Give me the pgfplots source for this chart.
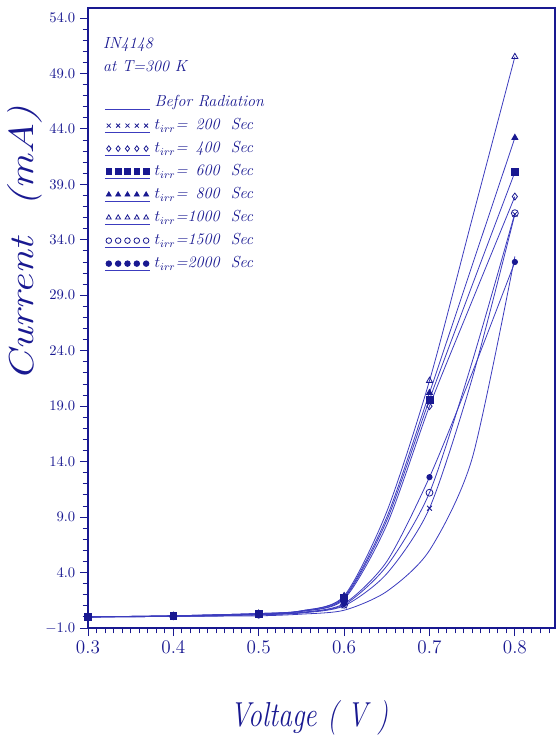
\documentclass[border=0pt]{standalone}
\usepackage{pgfplots}
\pgfplotsset{compat=1.18}
\usepackage{pgfplotstable}
\usepackage{graphicx}
\definecolor{ink}{RGB}{25,25,145}
\definecolor{wire}{RGB}{60,60,190}

% I-V of 1N4148 diode, current in mA
\pgfplotstableread{
x     before s200 s400 s600 s800 s1000 s1500 s2000
0.30  0.0    0.0  0.0  0.0  0.0  0.0   0.0   0.0
0.40  0.05   0.05 0.1  0.1  0.1  0.1   0.05  0.05
0.50  0.1    0.2  0.25 0.3  0.3  0.3   0.2   0.2
0.55  0.25   0.35 0.5  0.5  0.55 0.55  0.4   0.4
0.60  0.6    1.0  1.6  1.7  1.8  1.9   1.1   1.2
0.65  2.3    3.9  8.3  8.7  9.0  9.5   4.6   5.0
0.70  6.0    9.8  19.0 19.6 20.2 21.3  11.2  12.6
0.75  14.3   21.5 28.5 29.9 31.7 35.9  23.0  22.0
0.80  32.5   36.3 37.9 40.1 43.2 50.5  36.4  32.0
}\ivdata

\begin{document}
\begin{tikzpicture}
\begin{axis}[
    name=ax,
    scale only axis, width=350.25pt, height=465pt,
    xmin=0.3, xmax=0.847, ymin=-1, ymax=54.9,
    xtick={0.3,0.4,0.5,0.6,0.7,0.8,0.9},
    ytick={-1,4,9,14,19,24,29,34,39,44,49,54,59},
    minor x tick num=9, minor y tick num=4,
    scaled ticks=false,
    tick align=outside, xtick pos=bottom, ytick pos=left,
    major tick length=6pt, minor tick length=4pt,
    axis line style={ink, line width=0.9pt},
    every tick/.style={ink, line width=0.7pt},
    x tick label style={font=\fontsize{15}{15}\selectfont, text=ink,
        /pgf/number format/fixed, /pgf/number format/fixed zerofill,
        /pgf/number format/precision=1},
    y tick label style={font=\fontsize{11}{11}\selectfont, text=ink,
        /pgf/number format/fixed, /pgf/number format/fixed zerofill,
        /pgf/number format/precision=1},
    xlabel={\scalebox{0.8}[1]{\itshape Voltage ( V )}},
    ylabel={\scalebox{1.25}[1]{\itshape Current\ \ (mA)}},
    every axis x label/.style={at={(rel axis cs:0.475,-0.145)}, anchor=center,
        font=\fontsize{26}{26}\selectfont, text=ink},
    every axis y label/.style={at={(rel axis cs:-0.135,0.62)}, rotate=90, anchor=center,
        font=\fontsize{26}{26}\selectfont, text=ink},
    every axis plot/.append style={wire, line width=0.6pt, smooth, tension=0.45,
        mark indices={1,2,3,5,7,9}, mark size=2.6pt,
        mark options={ink, solid, fill=ink}},
    legend image code/.code={
        \draw[#1, mark=none] (0pt,-5pt) -- (34pt,-5pt);
        \draw[#1, only marks, mark size=2.1pt, mark indices={1,2,3,4,5}]
            plot coordinates {(3pt,0pt) (10pt,0pt) (17pt,0pt) (24pt,0pt) (31pt,0pt)};
    },
    legend cell align=left,
    legend style={at={(0.026,0.865)}, anchor=north west, draw=none, fill=none,
        font=\fontsize{12}{14}\selectfont\itshape, text=ink,
        nodes={inner sep=0pt, text height=9pt, text depth=3pt},
        row sep=5.25pt, column sep=3pt},
]
\addplot[mark=none] table[y=before] {\ivdata};
\addlegendentry{Befor Radiation}
\addplot[mark=x] table[y=s200] {\ivdata};
\addlegendentry{$t_{irr}$=\phantom{1}200\ \ Sec}
\addplot[mark=diamond] table[y=s400] {\ivdata};
\addlegendentry{$t_{irr}$=\phantom{1}400\ \ Sec}
\addplot[mark=square*] table[y=s600] {\ivdata};
\addlegendentry{$t_{irr}$=\phantom{1}600\ \ Sec}
\addplot[mark=triangle*] table[y=s800] {\ivdata};
\addlegendentry{$t_{irr}$=\phantom{1}800\ \ Sec}
\addplot[mark=triangle] table[y=s1000] {\ivdata};
\addlegendentry{$t_{irr}$=1000\ \ Sec}
\addplot[mark=o] table[y=s1500] {\ivdata};
\addlegendentry{$t_{irr}$=1500\ \ Sec}
\addplot[mark=*, mark size=2pt] table[y=s2000] {\ivdata};
\addlegendentry{$t_{irr}$=2000\ \ Sec}
\node[anchor=north west, inner sep=0pt, align=left, text=ink,
      font=\fontsize{12}{17}\selectfont\itshape] at (rel axis cs:0.032,0.952)
      {IN4148\\at T=300 K};
\end{axis}
\path (ax.south west) ++(-66pt,-84pt) coordinate (bl);
\path (ax.north east) ++(2.25pt,6pt) coordinate (tr);
\pgfresetboundingbox
\path[use as bounding box] (bl) rectangle (tr);
\end{tikzpicture}
\end{document}
